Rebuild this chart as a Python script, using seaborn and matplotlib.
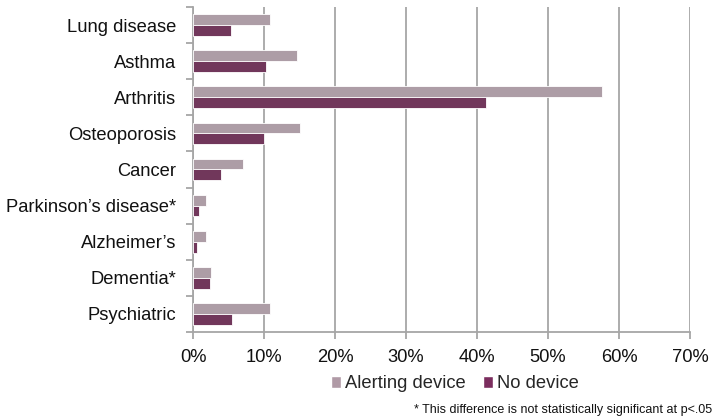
import matplotlib
matplotlib.use("Agg")
import matplotlib.pyplot as plt
import seaborn as sns
import pandas as pd
import numpy as np
from matplotlib.ticker import FixedLocator, FuncFormatter
from matplotlib.patches import Patch

categories = ["Lung disease", "Asthma", "Arthritis", "Osteoporosis", "Cancer",
              "Parkinson\u2019s disease*", "Alzheimer\u2019s", "Dementia*", "Psychiatric"]
alerting_device = [10.9, 14.6, 57.6, 15.0, 7.0, 1.8, 1.8, 2.6, 10.9]
no_device = [5.4, 10.3, 41.3, 10.0, 3.9, 0.9, 0.5, 2.4, 5.5]
series_names = ["Alerting device", "No device"]
x_ticks = [0, 10, 20, 30, 40, 50, 60, 70]
footnote = "* This difference is not statistically significant at p<.05"

colors = ["#B09AA6", "#7B2D5E"]

df = pd.DataFrame({
    "Condition": categories * 2,
    "Series": [series_names[0]] * len(categories) + [series_names[1]] * len(categories),
    "Value": alerting_device + no_device,
})

sns.set_theme(style="white")
plt.rcParams["font.family"] = ["Liberation Sans", "DejaVu Sans"]

fig = plt.figure(figsize=(7.26, 4.18), dpi=100)
ax = fig.add_axes([193 / 726, 1 - 332 / 418, (690 - 193) / 726, (332 - 7) / 418])

sns.barplot(data=df, y="Condition", x="Value", hue="Series", order=categories,
            hue_order=series_names, palette=colors, orient="h", width=0.6,
            edgecolor="white", linewidth=0.6, ax=ax, legend=False, zorder=3)

grid_color = "#A6A6A6"
fs = 13.2
ax.set_xlim(0, 70)
ax.set_ylim(len(categories) - 0.5, -0.5)
ax.set_xticks(x_ticks)
ax.xaxis.set_major_formatter(FuncFormatter(lambda v, p: f"{v:.0f}%"))
ax.grid(axis="x", color=grid_color, linewidth=1.3, zorder=0)
ax.grid(axis="y", visible=False)
ax.set_axisbelow(True)

for s in ["top", "right"]:
    ax.spines[s].set_visible(False)
for s in ["left", "bottom"]:
    ax.spines[s].set_color(grid_color)
    ax.spines[s].set_linewidth(1.3)

ax.set_xlabel("")
ax.set_ylabel("")
ax.tick_params(axis="y", which="major", left=True, length=0, pad=12, labelsize=fs,
               labelcolor="#111111")
ax.yaxis.set_minor_locator(FixedLocator(np.arange(-0.5, len(categories), 1.0)))
ax.tick_params(axis="y", which="minor", left=True, length=5, width=1.3, color=grid_color,
               direction="out")
ax.tick_params(axis="x", which="major", bottom=True, length=5, width=1.3, color=grid_color,
               direction="out", pad=7, labelsize=fs, labelcolor="#111111")

handles = [Patch(facecolor=colors[0], label=series_names[0]),
           Patch(facecolor=colors[1], label=series_names[1])]
fig.legend(handles=handles, loc="center", bbox_to_anchor=(455 / 726, 1 - 384 / 418),
           ncol=2, frameon=False, fontsize=fs, handlelength=0.55, handleheight=0.55,
           handletextpad=0.25, columnspacing=0.9, borderpad=0.1)

fig.text(712 / 726, 1 - 410 / 418, footnote, ha="right", va="center", fontsize=9,
         color="#111111")

fig.savefig("out.png", dpi=100)
